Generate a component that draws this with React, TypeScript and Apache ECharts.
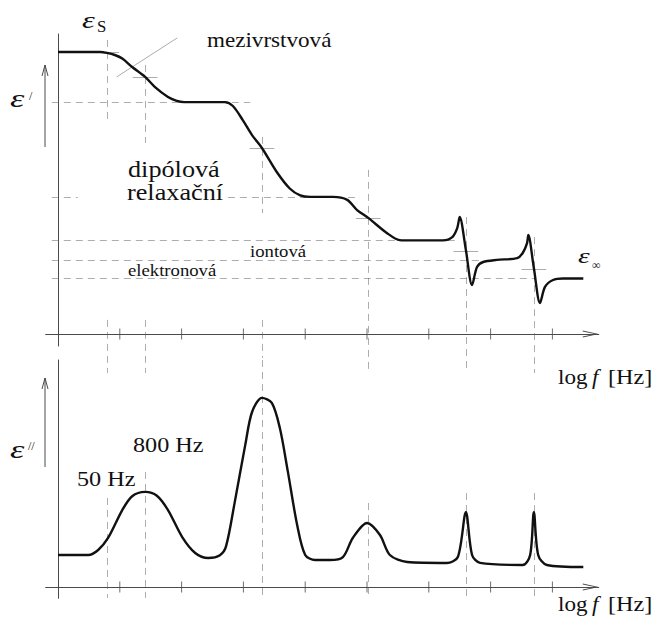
import React, { useEffect, useRef } from "react";
import * as echarts from "echarts";

// log f (decades) where the axis ticks sit
const decadeTicks = [1, 2, 3, 4, 5, 6, 7, 8];
// characteristic log f of each mechanism (dashed guides)
const guideX = [0.79, 1.41, 3.3, 5.02, 6.6, 7.7];
// ε' plateau levels: εs, after mezivrstvová, after dipólová, ..., ε∞
const levels = [9.4, 7.73, 4.57, 3.12, 2.47, 1.85];
// ε' at the inflection marks (crosses)
const crossY = [9.4, 8.57, 6.2, 3.87, 2.77, 2.17];

// ε' (real part) vs log f
const epsReal: number[][] = [
  [0, 9.4], [0.68, 9.4], [0.79, 9.37], [0.92, 9.3], [1.04, 9.18], [1.2, 8.9], [1.41, 8.57],
  [1.57, 8.23], [1.78, 7.9], [1.91, 7.78], [2.04, 7.73], [2.7, 7.73], [2.83, 7.6], [2.99, 7.13],
  [3.14, 6.63], [3.3, 6.2], [3.54, 5.4], [3.75, 4.85], [3.92, 4.62], [4.08, 4.57], [4.45, 4.57],
  [4.68, 4.47], [4.84, 4.13], [5.02, 3.87], [5.32, 3.37], [5.53, 3.13], [5.7, 3.12], [6.23, 3.12],
  [6.38, 3.23], [6.46, 3.53], [6.5, 3.9], [6.6, 2.8], [6.7, 1.63], [6.78, 2.23], [6.88, 2.4],
  [7.1, 2.47], [7.43, 2.53], [7.52, 2.7], [7.59, 3.03], [7.61, 3.3], [7.7, 2.2], [7.8, 1.03],
  [7.88, 1.57], [8.01, 1.8], [8.17, 1.85], [8.5, 1.85],
];

// ε'' (loss) vs log f
const epsImag: number[][] = [
  [0, 1.41], [0.49, 1.41], [0.65, 1.63], [0.81, 2.16], [1.04, 3.39], [1.2, 4.0], [1.41, 4.19],
  [1.6, 4.02], [1.78, 3.39], [2.01, 2.2], [2.22, 1.5], [2.43, 1.28], [2.62, 1.4], [2.72, 1.8],
  [2.86, 3.74], [3.03, 6.26], [3.14, 7.71], [3.3, 8.33], [3.46, 8.11], [3.59, 7.0], [3.72, 5.07],
  [3.87, 2.73], [4.0, 1.41], [4.16, 1.19], [4.4, 1.19], [4.61, 1.32], [4.77, 2.16], [5.0, 2.82],
  [5.21, 2.29], [5.37, 1.41], [5.65, 1.1], [6.29, 1.06], [6.47, 1.32], [6.6, 3.3], [6.7, 1.41],
  [6.83, 1.06], [7.52, 0.97], [7.64, 1.41], [7.7, 3.3], [7.77, 1.41], [7.91, 0.97], [8.5, 0.88],
];

// dashed horizontal guides in the ε' panel: [from, to, level]
const hGuides: number[][] = [
  [-0.1, 3.11, levels[1]],
  [-0.1, 0.32, levels[2]],
  [2.75, 4.81, levels[2]],
  [-0.1, 6.42, levels[3]],
  [-0.1, 6.88, levels[4]],
  [-0.1, 7.72, levels[5]],
];
// dashed vertical guides in the ε' panel: [x, yFrom, yTo]
const vGuidesTop: number[][] = [
  [guideX[0], 9.8, 7.13], [guideX[0], 0.47, -1.3],
  [guideX[1], 8.97, 6.37], [guideX[1], 0.47, -1.3],
  [guideX[2], 6.57, 4.03], [guideX[2], 0.47, -0.8],
  [guideX[3], 5.47, -1.3],
  [guideX[4], 3.9, -1.3],
  [guideX[5], 3.23, -1.3],
];
// dashed vertical guides in the ε'' panel
const vGuidesBottom: number[][] = [
  [guideX[0], 3.92, -0.48], [guideX[1], 5.07, -0.48], [guideX[2], 10.0, -0.48],
  [guideX[3], 3.7, -0.48], [guideX[4], 4.14, -0.48], [guideX[5], 4.14, -0.48],
];
const pointerLine: number[][] = [[0.95, 8.57], [1.93, 9.87]];

const FONT = "Liberation Serif";
const INK = "#111111";
const AXIS = "#4a4a4a";
const DASH = "#5e5e5e";

function txt(text: string, x: number, baseline: number, fs: number, scaleX = 1.1, italic = false) {
  return {
    type: "text",
    x,
    y: baseline - 0.34 * fs,
    scaleX,
    silent: true,
    style: {
      text,
      fontFamily: FONT,
      fontSize: fs,
      fontStyle: italic ? "italic" : "normal",
      fontWeight: "normal",
      fill: INK,
      textAlign: "left",
      textVerticalAlign: "middle",
    },
  };
}

function upArrow(x: number, yTop: number, yBottom: number) {
  return [
    { type: "line", silent: true, shape: { x1: x, y1: yBottom, x2: x, y2: yTop }, style: { stroke: AXIS, lineWidth: 1 } },
    {
      type: "polyline",
      silent: true,
      shape: { points: [[x - 3, yTop + 11], [x, yTop], [x + 3, yTop + 11]] },
      style: { stroke: AXIS, lineWidth: 1, fill: "none" },
    },
  ];
}

const ARROW = "path://M0,16 L3.5,0 L7,16 L6.1,16 L3.5,4.2 L0.9,16 Z";

export default function App() {
  const ref = useRef<HTMLDivElement>(null);
  useEffect(() => {
    if (!ref.current) return;
    const chart = echarts.init(ref.current, undefined, { renderer: "svg" });

    const xAxisBase = (gridIndex: number) => ({
      type: "value",
      gridIndex,
      min: -0.2,
      max: 8.75,
      axisLine: {
        onZero: true,
        lineStyle: { color: AXIS, width: 1 },
        symbol: ["none", ARROW],
        symbolSize: [7, 16],
        symbolOffset: [0, -8],
      },
      axisTick: { show: false },
      axisLabel: { show: false },
      splitLine: { show: false },
    });
    const yAxisBase = (gridIndex: number, min: number) => ({
      type: "value",
      gridIndex,
      min,
      max: 10,
      axisLine: { show: true, onZero: true, lineStyle: { color: AXIS, width: 1 } },
      axisTick: { show: false },
      axisLabel: { show: false },
      splitLine: { show: false },
    });

    const dashStyle = { color: DASH, width: 1, type: [7, 5] };

    const option: any = {
      animation: false,
      backgroundColor: "#ffffff",
      grid: [
        { left: 45.64, width: 553.11, top: 34, height: 312 },
        { left: 45.64, width: 553.11, top: 360, height: 238.35 },
      ],
      xAxis: [xAxisBase(0), xAxisBase(1)],
      yAxis: [yAxisBase(0, -0.4), yAxisBase(1, -0.5)],
      series: [
        {
          type: "lines",
          coordinateSystem: "cartesian2d",
          xAxisIndex: 0,
          yAxisIndex: 0,
          clip: false,
          silent: true,
          lineStyle: dashStyle,
          data: [
            ...hGuides.map((g) => ({ coords: [[g[0], g[2]], [g[1], g[2]]] })),
            ...vGuidesTop.map((g) => ({ coords: [[g[0], g[1]], [g[0], g[2]]] })),
          ],
        },
        {
          type: "lines",
          coordinateSystem: "cartesian2d",
          xAxisIndex: 1,
          yAxisIndex: 1,
          clip: false,
          silent: true,
          lineStyle: dashStyle,
          data: vGuidesBottom.map((g) => ({ coords: [[g[0], g[1]], [g[0], g[2]]] })),
        },
        {
          type: "lines",
          coordinateSystem: "cartesian2d",
          xAxisIndex: 0,
          yAxisIndex: 0,
          clip: false,
          silent: true,
          lineStyle: { color: "#5a5a5a", width: 1, type: "solid" },
          data: [
            ...guideX.map((x, i) => ({ coords: [[x - 0.2, crossY[i]], [x + 0.2, crossY[i]]] })),
            { coords: pointerLine },
          ],
        },
        {
          type: "scatter",
          xAxisIndex: 0,
          yAxisIndex: 0,
          silent: true,
          symbol: "rect",
          symbolSize: [1, 11],
          itemStyle: { color: AXIS },
          data: decadeTicks.map((t) => [t, 0]),
        },
        {
          type: "scatter",
          xAxisIndex: 1,
          yAxisIndex: 1,
          silent: true,
          symbol: "rect",
          symbolSize: [1, 11],
          itemStyle: { color: AXIS },
          data: decadeTicks.map((t) => [t, 0]),
        },
        {
          type: "line",
          xAxisIndex: 0,
          yAxisIndex: 0,
          smooth: 0.3,
          showSymbol: false,
          silent: true,
          z: 5,
          lineStyle: { color: INK, width: 2.4 },
          data: epsReal,
        },
        {
          type: "line",
          xAxisIndex: 1,
          yAxisIndex: 1,
          smooth: 0.3,
          showSymbol: false,
          silent: true,
          z: 5,
          lineStyle: { color: INK, width: 2.4 },
          data: epsImag,
        },
      ],
      graphic: [
        ...upArrow(45, 65, 147),
        ...upArrow(45, 378, 467),
        txt("ε", 82, 28, 24, 1.35, true),
        txt("S", 97, 32, 16, 1.05),
        txt("mezivrstvová", 207, 47, 21, 1.1),
        txt("ε", 10, 107, 26, 1.4, true),
        txt("/", 29, 100, 12, 1),
        txt("dipólová", 128, 177, 23, 1.14),
        txt("relaxační", 127, 200, 23, 1.14),
        txt("iontová", 250, 257, 17, 1.1),
        txt("elektronová", 128, 276, 17, 1.1),
        txt("ε", 578, 263, 22, 1.35, true),
        txt("∞", 592, 269, 12, 1),
        txt("log", 558, 384, 21, 1.1),
        txt("f", 592, 384, 21, 1.1, true),
        txt("[Hz]", 608, 384, 21, 1.15),
        txt("ε", 10, 458, 26, 1.4, true),
        txt("//", 28, 450, 12, 1),
        txt("800 Hz", 133, 452, 22, 1.1),
        txt("50 Hz", 77, 486, 22, 1.1),
        txt("log", 558, 611, 21, 1.1),
        txt("f", 592, 611, 21, 1.1, true),
        txt("[Hz]", 608, 611, 21, 1.15),
      ],
    };
    chart.setOption(option);
    return () => chart.dispose();
  }, []);
  return (
    <div
      ref={ref}
      style={{ position: "absolute", left: 0, top: 0, width: 656, height: 625, background: "#fff" }}
    />
  );
}
